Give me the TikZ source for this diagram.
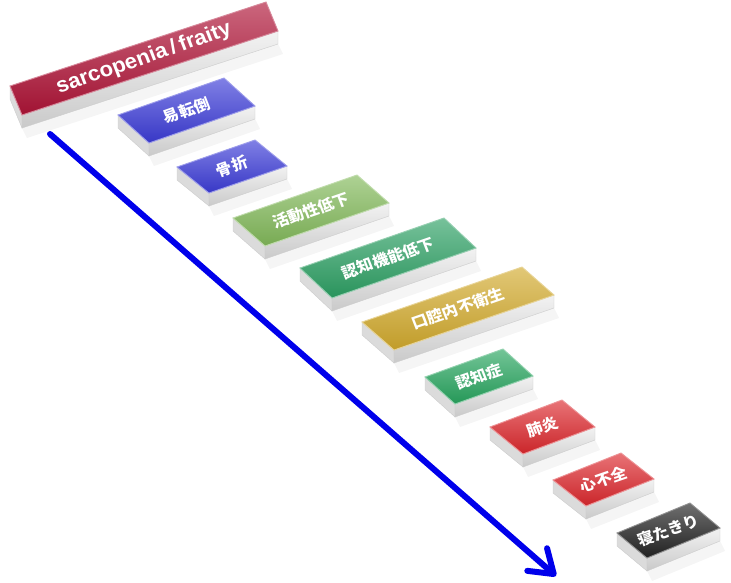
\documentclass[tikz,border=0pt]{standalone}
\usepackage{fontspec}
\setsansfont{Liberation Sans}
\newfontfamily\cjk{Noto Sans CJK JP}
\usetikzlibrary{calc,arrows.meta}

\definecolor{sarcred}{RGB}{175,20,55}
\definecolor{fallblue}{RGB}{60,60,215}
\definecolor{actgreen}{RGB}{130,185,90}
\definecolor{cogngreen}{RGB}{45,160,100}
\definecolor{oralgold}{RGB}{210,170,45}
\definecolor{demgreen}{RGB}{40,165,95}
\definecolor{pneured}{RGB}{220,40,45}
\definecolor{bedblack}{RGB}{35,35,35}
\definecolor{arrowblue}{RGB}{0,0,235}

\tikzset{
  slabside/.style={fill=gray!28, draw=gray!40, line width=0.4pt},
  slabfront/.style={top color=gray!10, bottom color=gray!42, draw=gray!40, line width=0.4pt},
  btntext/.style={text=white, font=\cjk\bfseries\fontsize{16}{16}\selectfont, inner sep=0pt}
}

% #1 name, #2 left corner, #3 long side, #4 short side, #5 colour, #6 text
\newcommand\button[6]{%
  \coordinate (#1-a) at #2;
  \coordinate (#1-b) at ($(#1-a)+#3$);
  \coordinate (#1-d) at ($(#1-a)+#4$);
  \coordinate (#1-c) at ($(#1-b)+#4$);
  \fill[gray!8] ($(#1-d)+(0,13)$) -- ($(#1-c)+(0,13)$) -- ($(#1-c)+(5,23)$) -- ($(#1-d)+(5,23)$) -- cycle;
  \draw[slabside] (#1-a) -- (#1-d) -- ($(#1-d)+(0,13)$) -- ($(#1-a)+(0,13)$) -- cycle;
  \draw[slabfront] (#1-d) -- (#1-c) -- ($(#1-c)+(0,13)$) -- ($(#1-d)+(0,13)$) -- cycle;
  \draw[top color=#5!65!white, bottom color=#5!92!black, draw=#5!50!white, line width=0.9pt]
    (#1-a) -- (#1-b) -- (#1-c) -- (#1-d) -- cycle;
  \begin{scope}[shift={($(#1-a)!0.5!(#1-c)$)}]
    \node[btntext, cm={0.946,0.326,-0.35,0.9,(0,0)}] (#1) at (0,0) {#6};
  \end{scope}
}

\begin{document}
\begin{tikzpicture}[x=1pt, y=-1pt]
  \useasboundingbox (0,0) rectangle (731,582);

  \coordinate (start) at (50,134);
  \coordinate (tip) at (556,576);
  \draw[arrowblue, line width=6pt, line cap=round,
    -{Straight Barb[length=22pt,width=30pt,round]}] (start) -- (tip);

  \button{sarc}{(10,86)}{(256,-84)}{(12,29)}{sarcred}{\sffamily\bfseries\fontsize{22}{22}\selectfont sarcopenia\,/\,fraity}
  \button{fall}{(118,115)}{(106,-37)}{(31,28)}{fallblue}{易転倒}
  \button{frac}{(177,167)}{(78,-27)}{(32,26)}{fallblue}{骨折}
  \button{act}{(233,218)}{(124,-43)}{(32,28)}{actgreen}{活動性低下}
  \button{cogn}{(300,268)}{(144,-50)}{(32,30)}{cogngreen}{認知機能低下}
  \button{oral}{(362,322)}{(160,-55)}{(32,28)}{oralgold}{口腔内不衛生}
  \button{dem}{(425,377)}{(78,-28)}{(30,27)}{demgreen}{認知症}
  \button{pneu}{(490,427)}{(72,-27)}{(33,27)}{pneured}{肺炎}
  \button{heart}{(553,480)}{(68,-27)}{(33,26)}{pneured}{心不全}
  \button{bed}{(617,533)}{(73,-30)}{(30,25)}{bedblack}{寝たきり}
\end{tikzpicture}
\end{document}
